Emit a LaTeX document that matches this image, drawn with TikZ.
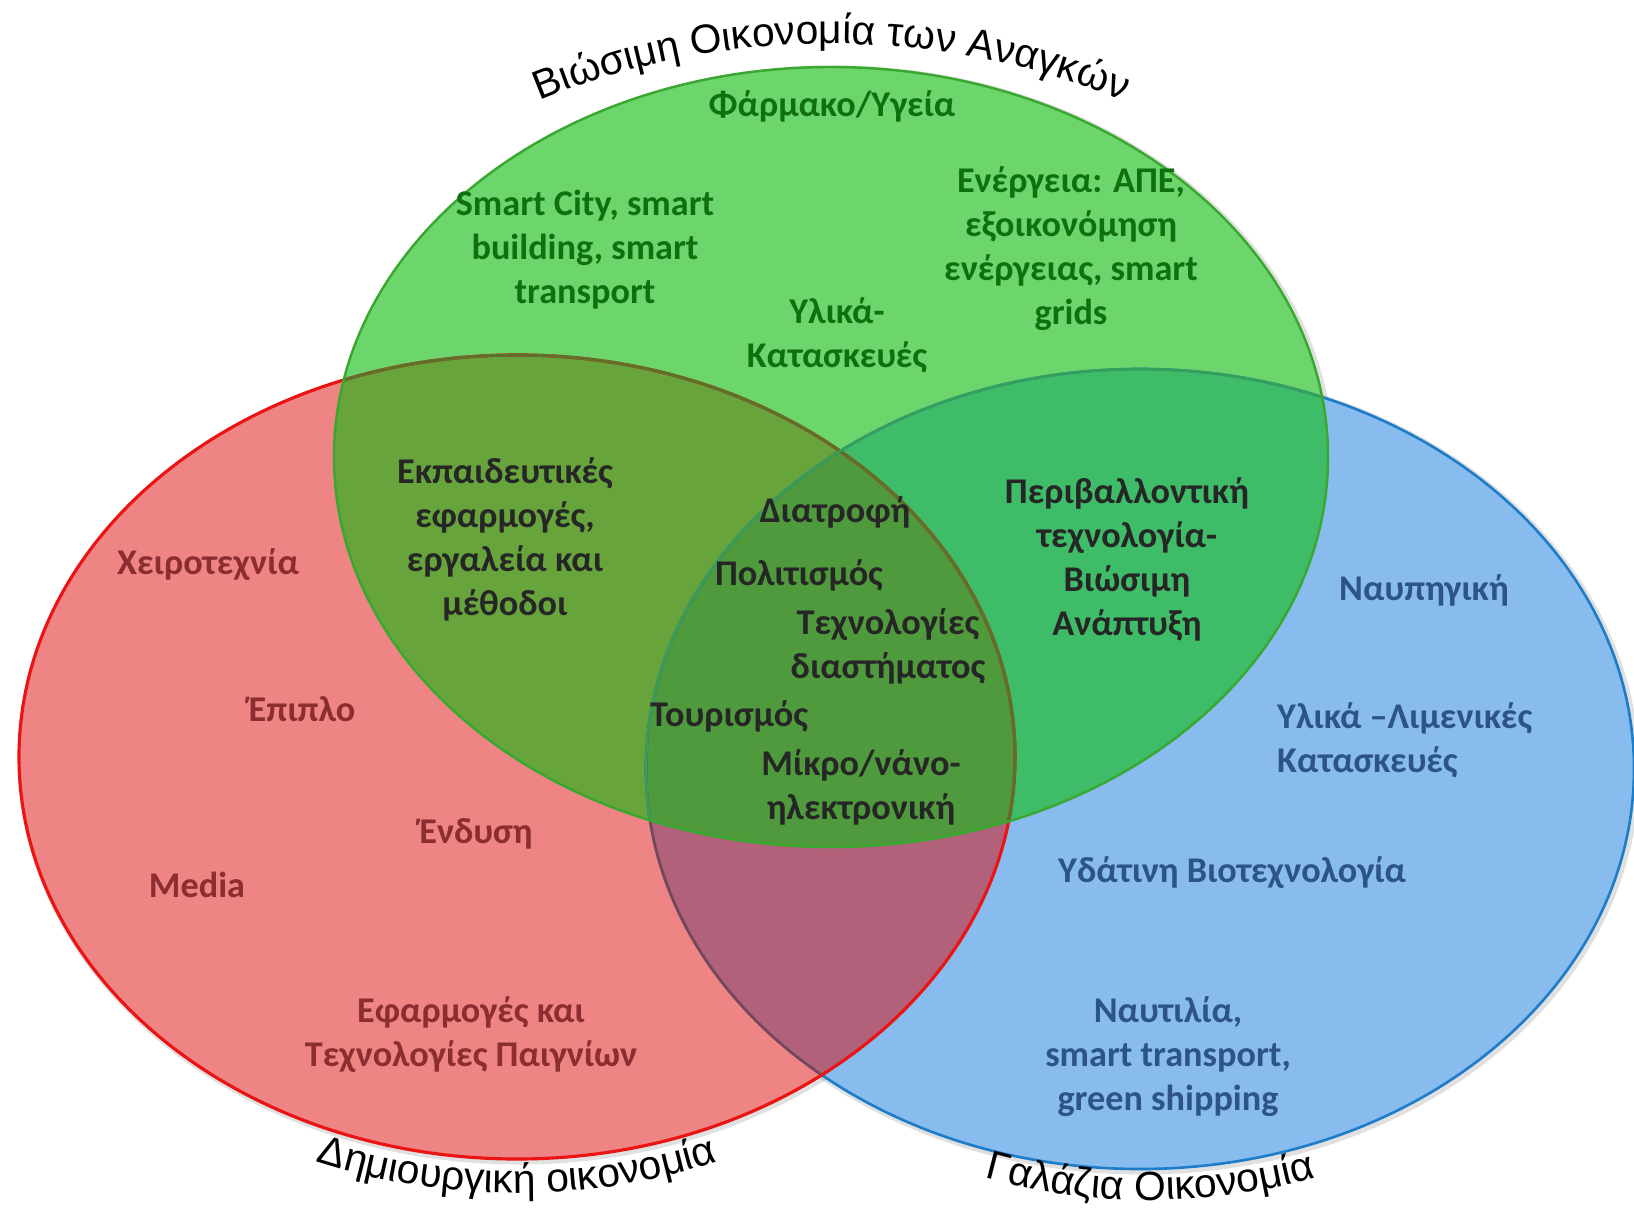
\documentclass[tikz,border=0pt]{standalone}
\usepackage{fontspec}
\newfontfamily\lblfam{Carlito}
\newfontfamily\arcfam{Liberation Sans}
\usepackage{tikz}
\usetikzlibrary{decorations.text}
\definecolor{redfill}{RGB}{239,132,132}
\definecolor{greenfill}{RGB}{108,214,108}
\definecolor{bluefill}{RGB}{136,188,239}
\definecolor{rgfill}{RGB}{104,164,60}
\definecolor{gbfill}{RGB}{62,188,104}
\definecolor{rbfill}{RGB}{178,97,123}
\definecolor{rgbfill}{RGB}{79,154,60}
\definecolor{redline}{RGB}{235,20,20}
\definecolor{greenline}{RGB}{58,168,48}
\definecolor{blueline}{RGB}{30,125,200}
\definecolor{greentxt}{RGB}{16,112,16}
\definecolor{redtxt}{RGB}{140,45,50}
\definecolor{bluetxt}{RGB}{44,84,136}
\definecolor{darktxt}{RGB}{38,38,38}
\newcommand{\lblfont}{\lblfam\bfseries\fontsize{10.3}{12.5}\selectfont}
\newcommand{\arcfont}{\arcfam\fontsize{11.6}{14}\selectfont}
\newcommand{\redpath}{(517,-757) ellipse [x radius=498, y radius=402]}
\newcommand{\greenpath}{(831,-457) ellipse [x radius=497, y radius=390]}
\newcommand{\bluepath}{(1140,-769) ellipse [x radius=494, y radius=400]}

\begin{document}
\begin{tikzpicture}[x=0.01cm,y=0.01cm,
  lbl/.style={font=\lblfont, align=center, inner sep=1pt},
  greenlbl/.style={lbl, text=greentxt},
  redlbl/.style={lbl, text=redtxt},
  bluelbl/.style={lbl, text=bluetxt},
  darklbl/.style={lbl, text=darktxt},
  shadowline/.style={draw=black, opacity=0.12, line width=2pt},
  arclbl/.style={decorate, decoration={text along path, text align=center, text={|\arcfont|#1}}}]
\useasboundingbox (0,-1210) rectangle (1634,0);

% soft shadows
\draw[shadowline, shift={(2,-2)}] \redpath;
\draw[shadowline, shift={(2,-2)}] \bluepath;
\draw[shadowline, shift={(2,-2)}] \greenpath;

% sets and their overlaps
\fill[redfill] \redpath;
\fill[bluefill] \bluepath;
\fill[greenfill] \greenpath;
\begin{scope}
  \clip \redpath;
  \fill[rbfill] \bluepath;
  \fill[rgfill] \greenpath;
\end{scope}
\begin{scope}
  \clip \bluepath;
  \fill[gbfill] \greenpath;
\end{scope}
\begin{scope}
  \clip \redpath;
  \clip \bluepath;
  \fill[rgbfill] \greenpath;
\end{scope}

% outlines
\draw[blueline, line width=0.75pt] \bluepath;
\begin{scope}
  \clip \redpath;
  \draw[rbfill!70!black, line width=0.75pt] \bluepath;
\end{scope}
\draw[redline, line width=0.9pt] \redpath;
\begin{scope}
  \clip \greenpath;
  \draw[rgfill!75!black!90!red, line width=0.9pt] \redpath;
  \draw[gbfill!85!black, line width=0.75pt] \bluepath;
\end{scope}
\draw[greenline, line width=0.7pt] \greenpath;

% set names
\path[arclbl={Βιώσιμη Οικονομία των Αναγκών}]
  (831,-457) ++(150:575 and 413) arc [start angle=150, end angle=30, x radius=575, y radius=413];
\path[arclbl={Δημιουργική οικονομία}]
  (517,-757) ++(215:540 and 436) arc [start angle=215, end angle=325, x radius=540, y radius=436];
\path[arclbl={Γαλάζια Οικονομία}]
  (1150,-769) ++(225:520 and 431) arc [start angle=225, end angle=315, x radius=520, y radius=431];

% green set
\node (pharma) at (832,-106) [greenlbl] {Φάρμακο/Υγεία};
\node (smartcity) at (585,-250) [greenlbl] {Smart City, smart\\building, smart\\transport};
\node (energy) at (1071,-249) [greenlbl] {Ενέργεια: ΑΠΕ,\\εξοικονόμηση\\ενέργειας, smart\\grids};
\node (materials) at (837,-335) [greenlbl] {Υλικά-\\Κατασκευές};

% red set
\node (craft) at (208,-565) [redlbl] {Χειροτεχνία};
\node (furniture) at (302,-709) [redlbl] {Έπιπλο};
\node (clothing) at (476,-834) [redlbl] {Ένδυση};
\node (media) at (197,-885) [redlbl] {Media};
\node (games) at (471,-1035) [redlbl] {Εφαρμογές και\\Τεχνολογίες Παιγνίων};

% blue set
\node (shipyard) at (1424,-590) [bluelbl] {Ναυπηγική};
\node (ports) at (1273,-740) [bluelbl, anchor=west, align=left] {Υλικά –Λιμενικές\\Κατασκευές};
\node (biotech) at (1232,-873) [bluelbl] {Υδάτινη Βιοτεχνολογία};
\node (shipping) at (1168,-1057) [bluelbl] {Ναυτιλία,\\smart transport,\\green shipping};

% overlaps
\node (education) at (505,-539) [darklbl] {Εκπαιδευτικές\\εφαρμογές,\\εργαλεία και\\μέθοδοι};
\node (environment) at (1127,-559) [darklbl] {Περιβαλλοντική\\τεχνολογία-\\Βιώσιμη\\Ανάπτυξη};
\node (food) at (835,-512) [darklbl] {Διατροφή};
\node (culture) at (799,-575) [darklbl] {Πολιτισμός};
\node (space) at (888,-646) [darklbl] {Τεχνολογίες\\διαστήματος};
\node (tourism) at (729,-716) [darklbl] {Τουρισμός};
\node (micro) at (861,-787) [darklbl] {Μίκρο/νάνο-\\ηλεκτρονική};
\end{tikzpicture}
\end{document}
